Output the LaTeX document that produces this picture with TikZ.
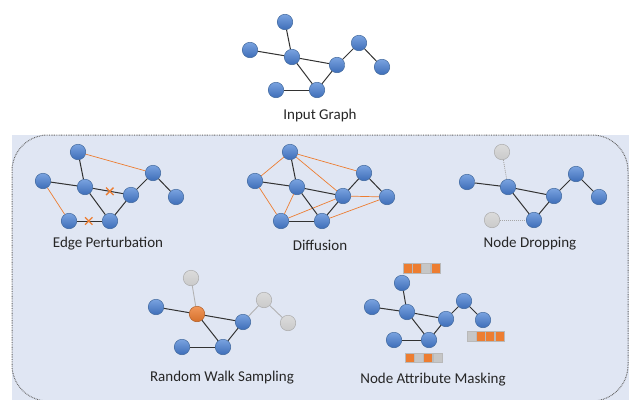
\documentclass[tikz,border=0pt]{standalone}
\usepackage{fontspec}
\setmainfont{Carlito}
\usetikzlibrary{positioning, shapes.misc}

\definecolor{vtxtop}{HTML}{7AA3E0}
\definecolor{vtxbot}{HTML}{3D6DB8}
\definecolor{vtxline}{HTML}{41699E}
\definecolor{augorange}{HTML}{ED7D31}
\definecolor{panelfill}{HTML}{E0E6F3}
\definecolor{edgegray}{HTML}{333333}

\begin{document}
\begin{tikzpicture}[
    x=1pt, y=-1pt,
    vtx/.style={circle, draw=vtxline, line width=0.5pt, top color=vtxtop, bottom color=vtxbot, minimum size=15.5pt, inner sep=0pt},
    gvtx/.style={vtx, draw=gray!65, top color=gray!28, bottom color=gray!42},
    ovtx/.style={vtx, draw=augorange!75!black, top color=augorange!80!white, bottom color=augorange!90!black},
    edge/.style={draw=edgegray, line width=1pt},
    oedge/.style={draw=augorange, line width=0.7pt},
    gedge/.style={draw=gray!60, line width=0.9pt},
    dedge/.style={draw=gray!70, line width=0.8pt, dash pattern=on 1pt off 1pt},
    xmark/.style={cross out, draw=augorange, line width=1.4pt, minimum size=6pt, inner sep=0pt},
    cell/.style={rectangle, draw=gray!55, line width=0.3pt, minimum width=9pt, minimum height=9.5pt, inner sep=0pt},
    lbl/.style={text=black!85, font=\fontsize{15}{17}\selectfont}
]
\useasboundingbox (0,0) rectangle (629,399);

% panel for the augmentations
\draw[panelfill, fill=panelfill] (12,135) rectangle (628,401);
\draw[gray!80!black, line width=1pt, dash pattern=on 0.8pt off 0.9pt, rounded corners=36pt] (12,401) -- (12,135) -- (628,135) -- (628,401) -- cycle;

% input graph
\foreach \n/\x/\y in {t/285/22, l/250/50, c/292/57, m/337/65, u/359/43, f/382/67, bl/276/90, b/317/90}
  \node[vtx] (in-\n) at (\x,\y) {};
\foreach \a/\b in {t/c, l/c, c/m, c/b, b/m, bl/b, m/u, u/f}
  \draw[edge] (in-\a) -- (in-\b);
\node[lbl] (in-lbl) at (320,115) {Input Graph};

% edge perturbation
\foreach \n/\x/\y in {t/78/152, l/43/181, c/85/187, m/131/195, u/153/173, f/176/197, bl/69/221, b/110/221}
  \node[vtx] (ep-\n) at (\x,\y) {};
\foreach \a/\b in {t/c, l/c, c/b, b/m, m/u, u/f}
  \draw[edge] (ep-\a) -- (ep-\b);
\draw[edge] (ep-c) -- node[xmark, pos=0.56] (ep-x1) {} (ep-m);
\draw[edge] (ep-bl) -- node[xmark, pos=0.47] (ep-x2) {} (ep-b);
\draw[oedge] (ep-t) -- (ep-u);
\draw[oedge] (ep-l) -- (ep-bl);
\node[lbl] (ep-lbl) at (108,244) {Edge Perturbation};

% diffusion
\foreach \n/\x/\y in {t/290/152, l/255/181, c/297/187, m/343/196, u/364/173, f/387/197, bl/281/221, b/322/221}
  \node[vtx] (df-\n) at (\x,\y) {};
\foreach \a/\b in {t/l, t/u, t/m, l/bl, c/bl, bl/m, m/f, b/f}
  \draw[oedge] (df-\a) -- (df-\b);
\foreach \a/\b in {t/c, l/c, c/m, c/b, b/m, bl/b, m/u, u/f}
  \draw[edge] (df-\a) -- (df-\b);
\node[lbl] (df-lbl) at (320,245) {Diffusion};

% node dropping
\foreach \n/\x/\y in {l/467/182, c/508/187, m/554/196, u/576/174, f/599/197, b/534/220}
  \node[vtx] (nd-\n) at (\x,\y) {};
\node[gvtx] (nd-t) at (502,152) {};
\node[gvtx] (nd-bl) at (492,220) {};
\foreach \a/\b in {l/c, c/m, c/b, b/m, m/u, u/f}
  \draw[edge] (nd-\a) -- (nd-\b);
\draw[dedge] (nd-t) -- (nd-c);
\draw[dedge] (nd-bl) -- (nd-b);
\node[lbl] (nd-lbl) at (530,244) {Node Dropping};

% random walk sampling
\foreach \n/\x/\y in {l/156/307, m/243/322, bl/182/347, b/223/347}
  \node[vtx] (rw-\n) at (\x,\y) {};
\node[ovtx] (rw-c) at (197,314) {};
\foreach \n/\x/\y in {t/191/278, u/264/300, f/288/323}
  \node[gvtx] (rw-\n) at (\x,\y) {};
\foreach \a/\b in {l/c, c/m, c/b, b/m, bl/b}
  \draw[edge] (rw-\a) -- (rw-\b);
\foreach \a/\b in {t/c, m/u, u/f}
  \draw[gedge] (rw-\a) -- (rw-\b);
\node[lbl] (rw-lbl) at (222,378) {Random Walk Sampling};

% node attribute masking
\foreach \n/\x/\y in {t/402/283, l/372/307, c/407/312, m/446/319, u/464/301, f/483/320, bl/394/340, b/429/340}
  \node[vtx] (am-\n) at (\x,\y) {};
\foreach \a/\b in {t/c, l/c, c/m, c/b, b/m, bl/b, m/u, u/f}
  \draw[edge] (am-\a) -- (am-\b);
\node[lbl] (am-lbl) at (433,380) {Node Attribute Masking};

% attribute vectors
\node[cell, fill=augorange] (va1) at (407.5,268) {};
\node[cell, fill=augorange, right=0pt of va1] (va2) {};
\node[cell, fill=gray!45, right=0pt of va2] (va3) {};
\node[cell, fill=augorange, right=0pt of va3] (va4) {};

\node[cell, fill=gray!45] (vb1) at (471.5,336) {};
\node[cell, fill=augorange, right=0pt of vb1] (vb2) {};
\node[cell, fill=augorange, right=0pt of vb2] (vb3) {};
\node[cell, fill=augorange, right=0pt of vb3] (vb4) {};

\node[cell, fill=augorange] (vc1) at (409.5,357.5) {};
\node[cell, fill=gray!45, right=0pt of vc1] (vc2) {};
\node[cell, fill=augorange, right=0pt of vc2] (vc3) {};
\node[cell, fill=gray!45, right=0pt of vc3] (vc4) {};
\end{tikzpicture}
\end{document}
